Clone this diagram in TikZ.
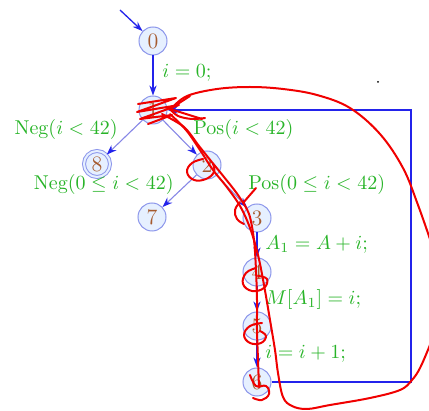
\documentclass[tikz,border=0pt]{standalone}
\usetikzlibrary{arrows.meta}
\definecolor{nodefill}{RGB}{230,240,255}
\definecolor{nodeedge}{RGB}{140,150,235}
\definecolor{digit}{RGB}{165,90,45}
\definecolor{labgreen}{RGB}{40,180,40}
\definecolor{edgeblue}{RGB}{35,35,235}
\definecolor{edgelight}{RGB}{135,135,230}
\definecolor{ink}{RGB}{240,0,0}
\begin{document}
\begin{tikzpicture}[x=0.5pt,y=-0.5pt,
  state/.style={circle,draw=nodeedge,fill=nodefill,line width=0.5pt,minimum size=14pt,inner sep=0pt,text=digit,font=\fontsize{11}{13}\selectfont},
  final/.style={state,double=nodefill,double distance=1pt,minimum size=13pt},
  lab/.style={text=labgreen,inner sep=0pt},
  darr/.style={draw=edgeblue,line width=0.65pt,-{Stealth[length=5pt,width=3.6pt,color=edgeblue]}},
  larr/.style={draw=edgelight,line width=0.55pt,-{Stealth[length=5pt,width=3.6pt,color=edgeblue]}},
  redink/.style={draw=ink,line width=1pt,line cap=round,line join=round}]
\useasboundingbox (0,0) rectangle (429,411);
% nodes
\node[state] (n0) at (153,41) {0};
\node[state] (n1) at (153,110) {1};
\node[final] (n8) at (97,164) {8};
\node[state] (n2) at (207,165) {2};
\node[state] (n7) at (152,217) {7};
\node[state] (n3) at (257,218) {3};
\node[state] (n4) at (257,272) {4};
\node[state] (n5) at (257,326) {5};
\node[state] (n6) at (257,382) {6};
\coordinate (start) at (120,10);
\coordinate (br) at (411,382);
\coordinate (tr) at (411,110);
\fill (378,82) circle (0.5pt);
% edges
\draw[darr] (start) -- (n0);
\draw[darr] (n0) -- (n1);
\draw[larr] (n1) -- (n8);
\draw[larr] (n1) -- (n2);
\draw[larr] (n2) -- (n7);
\draw[larr] (n2) -- (n3);
\draw[darr] (n3) -- (n4);
\draw[darr] (n4) -- (n5);
\draw[darr] (n5) -- (n6);
\draw[darr] (n6.east) -- (br) -- (tr) -- (n1.east);
% labels
\node[lab,anchor=west] (l01) at (162,73) {$i = 0;$};
\node[lab,anchor=east] (l18) at (118,130) {Neg$(i < 42)$};
\node[lab,anchor=west] (l12) at (193,130) {Pos$(i < 42)$};
\node[lab,anchor=east] (l27) at (174,185) {Neg$(0 \leq i < 42)$};
\node[lab,anchor=west] (l23) at (248,185) {Pos$(0 \leq i < 42)$};
\node[lab,anchor=west] (l34) at (265,245) {$A_1 = A + i;$};
\node[lab,anchor=west] (l45) at (265,300) {$M[A_1] = i;$};
\node[lab,anchor=west] (l56) at (265,354) {$i = i + 1;$};
% red hand-drawn annotations
\draw[redink] plot[smooth,tension=0.6] coordinates {(172,108) (187,96) (217,89) (250,87) (283,89) (317,95) (350,108) (380,134) (403,168) (418,205) (432,245)};
\draw[redink] plot[smooth,tension=0.6] coordinates {(434,335) (421,366) (412,380) (400,390) (370,398) (330,405) (307,409) (292,406) (283,397) (278,373) (275,350) (270,320) (264,285) (258,255) (250,228) (240,206) (226,186) (213,170) (200,150) (186,130) (170,114)};
\draw[redink] plot[smooth,tension=0.5] coordinates {(162,114) (184,127) (199,146) (211,161) (224,177) (238,195) (249,214) (254,240) (256,270) (257,300) (257,330) (258,360) (259,387)};
\draw[redink] (190,96) -- (170,109) -- (202,119);
\draw[redink] plot[smooth,tension=0.6] coordinates {(170,109) (178,116) (192,119) (205,118)};
\draw[redink] (138,104) -- (176,98) -- (137,112) -- (179,105) -- (140,119) -- (172,115) -- (148,124);
\draw[redink] plot[smooth,tension=0.7] coordinates {(203,159) (192,163) (187,172) (194,180) (206,179) (214,172) (213,164)};
\draw[redink] plot[smooth,tension=0.7] coordinates {(240,202) (235,210) (237,219) (244,224)};
\draw[redink] (243,203) -- (256,188);
\draw[redink] plot[smooth,tension=0.7] coordinates {(256,268) (246,273) (243,284) (252,291) (264,288) (267,279) (258,276)};
\draw[redink] plot[smooth,tension=0.7] coordinates {(262,323) (250,326) (244,335) (250,343) (261,343) (266,336) (260,331)};
\draw[redink] plot[smooth,tension=0.7] coordinates {(250,375) (256,386) (266,386) (269,394) (262,400) (253,398)};
\end{tikzpicture}
\end{document}
